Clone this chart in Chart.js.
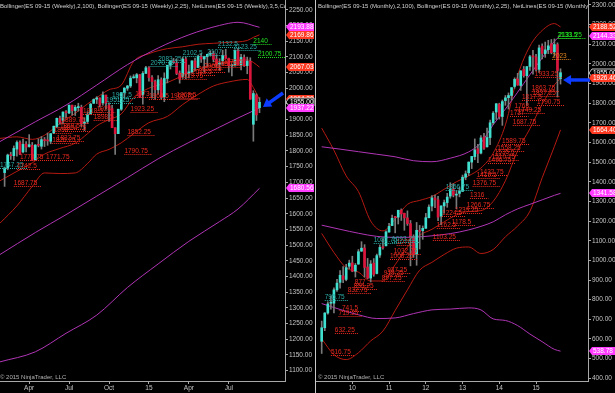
<!DOCTYPE html>
<html>
<head>
<meta charset="utf-8">
<script src="https://cdn.jsdelivr.net/npm/chart.js@4.4.1/dist/chart.umd.min.js"></script>
<style>
  html, body { margin: 0; padding: 0; background: #000; }
  body { width: 615px; height: 393px; position: relative; overflow: hidden; }
  #wk { position: absolute; left: 0; top: 0; }
  #sep { position: absolute; left: 315px; top: 0; width: 1px; height: 393px; background: #c8c8c8; }
  #mo { position: absolute; left: 316px; top: 0; }
</style>
</head>
<body>
<canvas id="wk" width="315" height="393"></canvas>
<div id="sep"></div>
<canvas id="mo" width="299" height="393"></canvas>
<script>
// weekly ES 09-15, Feb 2014 .. Sep 2015
const wkOpen  = [1731,1747,1787,1785,1806,1827,1797,1822,1814,1818,1772,1820,1815,1835,1835,1831,1857,1878,1904,1898,1924,1921,1946,1929,1938,1939,1887,1894,1919,1952,1965,1969,1953,1978,1946,1935,1874,1855,1933,1986,2000,2007,2033,2033,2043,1979,2047,2065,2034,2021,1995,2027,1972,2031,2073,2086,2081,2048,2038,2093,2046,2052,2087,2066,2102,2093,2101,2108,2111,2093,2077,2088,2104,2095,2071,2071,2121,2074,2098,2072,2086,1885,1978,1938];
const wkHigh  = [1747,1790,1796,1816,1832,1832,1838,1830,1852,1827,1820,1839,1846,1843,1857,1856,1879,1905,1911,1925,1929,1946,1946,1945,1952,1946,1906,1925,1952,1966,1973,1969,1988,1978,1953,1945,1874,1933,1986,2002,2009,2039,2043,2047,2044,2053,2070,2069,2040,2026,2040,2033,2049,2073,2087,2095,2093,2055,2099,2099,2074,2087,2096,2105,2111,2102,2108,2119,2118,2107,2094,2121,2124,2096,2077,2122,2127,2108,2106,2099,2097,1992,1982,1970];
const wkLow   = [1687,1740,1773,1770,1783,1788,1794,1797,1812,1769,1771,1813,1806,1814,1818,1823,1855,1874,1885,1886,1905,1919,1914,1913,1927,1877,1865,1887,1917,1951,1951,1940,1946,1933,1894,1874,1789,1855,1929,1969,1993,2002,2032,2017,1970,1949,2047,2022,1968,1964,1981,1965,1957,2017,2061,2079,2043,2016,2031,2030,2033,2049,2057,2065,2082,2052,2070,2102,2084,2070,2057,2076,2095,2051,2039,2071,2074,2058,2069,2046,1965,1831,1897,1922];
const wkClose = [1746,1787,1785,1808,1827,1790,1821,1812,1820,1770,1819,1818,1836,1833,1832,1855,1879,1904,1891,1924,1922,1946,1928,1939,1939,1886,1892,1916,1949,1964,1969,1946,1978,1951,1936,1874,1855,1933,1986,2000,2007,2032,2036,2043,1971,2047,2065,2034,2021,1995,2027,1971,2031,2073,2086,2081,2047,2029,2093,2046,2052,2087,2066,2102,2093,2101,2108,2111,2092,2077,2079,2104,2095,2071,2071,2121,2074,2098,2072,2086,1965,1983,1915,1955];
const wkTickIdx = [8, 21, 34, 47, 60, 73];
const wkTickText = ['Apr', 'Jul', 'Oct', '15', 'Apr', 'Jul'];
const wkPriceTicks = [1100,1150,1200,1250,1300,1350,1400,1450,1500,1550,1600,1650,1700,1750,1800,1850,1900,1950,2000,2050,2100,2150,2200,2250];

// weekly bollinger bands, read at sample bars
const wkIdx25 = [-1.5,4,9,13,18,23,27,30,34,38,42,47,53,58,63,68,73,79,81,83];
const wkUp25  = [1840,1845,1837,1850,1888,1920,1950,1970,1995,2010,2085,2110,2126,2132,2140,2143,2146,2152,2162,2170];
const wkMid25 = [1705,1735,1762,1790,1808,1825,1855,1880,1900,1918,1970,2000,2018,2040,2060,2075,2083,2090,2082,2067];
const wkLo25  = [1570,1625,1687,1730,1728,1730,1760,1790,1805,1826,1855,1890,1910,1948,1980,2007,2020,2028,2002,1964];
const wkIdx100 = [-1.5,10,20,30,40,50,60,70,76,83];
const wkUp100  = [1830,1893,1946,2010,2075,2128,2170,2200,2210,2194];
const wkMid100 = [1470,1540,1597,1656,1715,1775,1827,1876,1905,1937];
const wkLo100  = [1128,1160,1219,1277,1365,1440,1512,1575,1615,1681];

const wkNetText = ['1747.25','1687.75','1742.5','1770.75','1771.75','1826.25','1832.75','1858','1864.75','1869.5','1889.75','1918.5','1898.5','1924','1852.25','1790.75','1923.25','1973','1964.5','1966.75','1968.5','2029.75','2043.5','2052.25','2061','2068.75','2073.5','1951.25','1967.5','2070.75','2083.25','2102.5','2107','2132.5','2123.25','2140','2100.75'];
const wkNetIdx  = [-1.5,3,4,5,13.5,15.5,17,16,19,18,18.5,25.5,29,30,40,39,41,42.5,47,54,56,57,61,63,65,68,71,33,35,47.5,50,58,66,69.5,74.5,81,82.5];
const wkNetKind = ['c','r','r','r','r','r','r','r','r','r','r','r','r','r','r','r','r','r','r','r','r','r','r','r','r','r','r','c','c','c','c','c','c','c','c','g','g'];
const wkTagText = ['2193.88','2169.86','2067.03','1964.20','1955.00','1937.22','1680.56'];
const wkTagKind = ['m','r','r','r','k','m','m'];

// monthly ES 09-15 (back adjusted), Mar 2009 .. Sep 2015
const moOpen  = [588,657,732,782,782,850,888,921,903,970,987,945,981,1047,1063,966,910,986,933,1027,1068,1074,1144,1177,1220,1220,1256,1240,1216,1187,1120,1031,1151,1151,1163,1217,1276,1318,1308,1225,1277,1294,1327,1361,1332,1341,1351,1423,1446,1500,1528,1568,1546,1627,1578,1625,1701,1755,1795,1732,1813,1828,1839,1885,1923,1890,1972,1940,1987,2041,2035,1972,2090,2052,2072,2102,2061,2098,1925];
const moHigh  = [691,734,789,819,860,903,948,968,980,1001,1021,984,1055,1095,1080,1010,999,1009,1032,1079,1111,1150,1189,1231,1224,1255,1262,1240,1252,1203,1130,1193,1178,1175,1239,1283,1330,1332,1326,1278,1307,1341,1395,1390,1354,1373,1434,1455,1501,1529,1618,1591,1635,1647,1673,1714,1757,1798,1800,1816,1839,1852,1879,1929,1952,1966,1987,1986,2043,2069,2048,2096,2102,2111,2120,2124,2127,2107,1975];
const moLow   = [526,642,726,752,732,842,859,887,896,957,942,915,980,1045,915,907,890,919,931,1015,1057,1074,1144,1177,1140,1185,1203,1153,1178,972,1015,975,1058,1107,1163,1216,1251,1268,1202,1182,1240,1270,1316,1323,1263,1323,1351,1410,1432,1467,1512,1497,1542,1564,1576,1589,1690,1717,1719,1687,1789,1770,1815,1876,1891,1865,1932,1789,1967,1948,1964,1957,2025,2033,2052,2051,2039,1831,1897];
const moClose = [657,732,778,782,850,884,924,903,963,986,945,975,1044,1062,964,910,981,928,1024,1066,1064,1145,1173,1214,1217,1255,1236,1216,1187,1114,1031,1153,1147,1163,1217,1271,1318,1308,1220,1277,1294,1322,1361,1332,1336,1351,1423,1440,1500,1529,1562,1543,1623,1570,1625,1700,1749,1797,1732,1808,1827,1839,1879,1921,1892,1964,1940,1986,2036,2035,1971,2081,2053,2071,2092,2057,2098,1966,1955];
const moTickIdx = [10, 22, 34, 46, 58, 70];
const moTickText = ['10', '11', '12', '13', '14', '15'];
const moPriceTicks = [400,500,600,700,800,900,1000,1100,1200,1300,1400,1500,1600,1700,1800,1900,2000,2100,2200,2300];

const moIdx25 = [0,4,8,12,16,20,24,28,32,36,40,44,48,52,56,60,64,68,72,76,78];
const moUp25  = [1673,1560,1430,1350,1200,1150,1210,1285,1305,1325,1362,1400,1430,1470,1545,1690,1940,2090,2170,2205,2188];
const moMid25 = [1137,1040,962,940,895,895,978,1068,1128,1158,1196,1231,1249,1253,1300,1405,1558,1670,1795,1893,1926];
const moLo25  = [601,520,495,530,590,640,745,850,950,990,1030,1062,1068,1035,1055,1120,1175,1250,1420,1580,1664];
const moIdx100 = [0,6,12,18,24,30,36,42,48,52,56,60,64,68,72,76,78];
const moUp100  = [1578,1566,1553,1540,1527,1507,1502,1520,1552,1598,1690,1770,1856,1945,2030,2115,2144];
const moMid100 = [1179,1158,1138,1122,1117,1118,1125,1136,1155,1173,1196,1232,1262,1285,1308,1331,1341];
const moLo100  = [780,750,723,704,707,729,748,752,758,748,702,694,668,625,586,547,538];

const moNetText = ['795.75','516.75','632.25','719.25','741.5','832.75','855.25','877','1087.75','897.25','919.25','937.25','1008.25','1032.75','1076','1093.25','1103.25','1162.5','1224.5','1178.5','1239.25','1356.75','1266.75','1316','1376.75','1419.5','1432.75','1496.75','1510.75','1535.5','1558.25','1589.75','1737','1687.75','1768','1749.25','1817.5','1863.75','1837.25','1933.25','1790.75','2023','2133.5','2131.25'];
const moNetIdx  = [1,3,4.3,5.5,6.6,8.5,10.5,10.8,17,19.6,20.3,21.4,22.3,23.5,24.5,23,36.3,37.6,39.3,42.5,43.5,40.5,47.4,48.4,49.3,50.6,51.7,54.3,55.5,56.5,57.3,58.9,61.5,62.4,63,64,65.4,68.6,68.8,69.6,70.3,75.3,77,77.3];
const moNetKind = ['c','r','r','r','r','r','r','r','c','r','r','r','r','r','r','c','r','r','r','r','r','c','r','r','r','r','r','r','r','r','r','r','r','r','r','r','r','r','r','r','r','o','g','g'];
const moTagText = ['2188.52','2144.33','1955.00','1926.46','1664.40','1341.58','538.78'];
const moTagKind = ['r','m','k','r','r','m','m'];

const UP = '#40e0d0', DOWN = '#dc143c', WICK = '#7a7a7a';
const PURPLE = '#b035b5', DARKRED = '#b51a12';
const NET_COLORS = { r: '#ec2a20', c: '#2aa9a3', g: '#22e022', o: '#e0841e' };
const TAG_FILL = { m: '#ff3cff', r: '#ff3a22', k: '#000' };
const FONT = '"Liberation Sans", Arial, sans-serif';

Chart.defaults.font.family = FONT;

function candles(o, h, l, c) {
    const idx = o.map((v, i) => i);
    return [
        { type: 'bar', data: idx.map(i => ({ x: i, y: [l[i], h[i]] })), backgroundColor: WICK,
          barThickness: 1, grouped: false, borderWidth: 0, order: 2 },
        { type: 'bar', data: idx.map(i => ({ x: i, y: [o[i], c[i]] })),
          backgroundColor: idx.map(i => c[i] >= o[i] ? UP : DOWN),
          barThickness: 2, grouped: false, borderWidth: 0, minBarLength: 1, order: 1 }
    ];
}

function band(idx, vals, color) {
    return { type: 'line', data: idx.map((x, i) => ({ x, y: vals[i] })), borderColor: color,
             borderWidth: 1, pointRadius: 0, cubicInterpolationMode: 'monotone', order: 3 };
}

function overlay(cfg) {
    return {
        id: 'overlay',
        afterDatasetsDraw(chart) {
            const { ctx, chartArea: a, scales: { x, y } } = chart;
            ctx.save();
            ctx.beginPath();
            ctx.rect(a.left, a.top, a.right - a.left, a.bottom - a.top);
            ctx.clip();
            ctx.font = '6.5px ' + FONT;
            ctx.textBaseline = 'alphabetic';
            cfg.netText.forEach((t, i) => {
                const px = x.getPixelForValue(cfg.netIdx[i]);
                const py = Math.round(y.getPixelForValue(parseFloat(t)));
                const col = NET_COLORS[cfg.netKind[i]];
                ctx.fillStyle = col;
                ctx.fillText(t, px, py - 1.5);
                const w = ctx.measureText(t).width;
                ctx.strokeStyle = col;
                ctx.lineWidth = 1;
                ctx.setLineDash([1, 1]);
                ctx.beginPath();
                ctx.moveTo(px, py + 0.5);
                ctx.lineTo(px + w + 4, py + 0.5);
                ctx.stroke();
            });
            ctx.restore();
        },
        afterDraw(chart) {
            const { ctx, chartArea: a, scales: { x, y } } = chart;
            ctx.save();
            // header + copyright
            ctx.beginPath();
            ctx.rect(a.left, a.top, a.right - a.left, a.bottom - a.top);
            ctx.save();
            ctx.clip();
            ctx.fillStyle = '#d2d2d2';
            ctx.font = '6px ' + FONT;
            ctx.textBaseline = 'alphabetic';
            ctx.fillText(cfg.header, a.left + cfg.headerX, 7.5);
            ctx.fillStyle = '#b4b4b4';
            ctx.fillText('\u00a9 2015 NinjaTrader, LLC', a.left + cfg.headerX, a.bottom - 2);
            ctx.restore();

            // blue arrow pointing at the last bar
            const hx = x.getPixelForValue(cfg.arrow[0]) + cfg.arrow[2];
            const hy = y.getPixelForValue(cfg.arrow[1]);
            const tx = hx + cfg.arrow[3], ty = hy + cfg.arrow[4];
            const ang = Math.atan2(hy - ty, hx - tx);
            ctx.strokeStyle = '#0b3cff';
            ctx.fillStyle = '#0b3cff';
            ctx.lineWidth = 3.5;
            ctx.beginPath();
            ctx.moveTo(tx, ty);
            ctx.lineTo(hx - 6 * Math.cos(ang), hy - 6 * Math.sin(ang));
            ctx.stroke();
            ctx.beginPath();
            ctx.moveTo(hx, hy);
            ctx.lineTo(hx - 8 * Math.cos(ang) + 5 * Math.sin(ang), hy - 8 * Math.sin(ang) - 5 * Math.cos(ang));
            ctx.lineTo(hx - 8 * Math.cos(ang) - 5 * Math.sin(ang), hy - 8 * Math.sin(ang) + 5 * Math.cos(ang));
            ctx.closePath();
            ctx.fill();

            // price tags on the axis
            ctx.font = '6.5px ' + FONT;
            ctx.textBaseline = 'middle';
            cfg.tagText.forEach((t, i) => {
                const py = Math.round(y.getPixelForValue(parseFloat(t)));
                const k = cfg.tagKind[i];
                const x0 = a.right + 1, w = 28, h = 8;
                ctx.beginPath();
                ctx.moveTo(x0, py);
                ctx.lineTo(x0 + 3, py - h / 2);
                ctx.lineTo(x0 + w, py - h / 2);
                ctx.lineTo(x0 + w, py + h / 2);
                ctx.lineTo(x0 + 3, py + h / 2);
                ctx.closePath();
                ctx.fillStyle = TAG_FILL[k];
                ctx.fill();
                if (k === 'k') {
                    ctx.strokeStyle = '#c8c8c8';
                    ctx.lineWidth = 1;
                    ctx.stroke();
                }
                ctx.fillStyle = '#fff';
                ctx.fillText(t, x0 + 4, py + 0.5);
            });
            ctx.restore();
        }
    };
}

function makeChart(id, datasets, cfg) {
    const axisColor = '#a8a8a8';
    return new Chart(document.getElementById(id), {
        type: 'bar',
        data: { datasets },
        options: {
            responsive: false,
            animation: false,
            devicePixelRatio: 1,
            layout: { padding: 0 },
            plugins: { legend: { display: false }, tooltip: { enabled: false } },
            scales: {
                x: {
                    type: 'linear', position: 'bottom', min: cfg.xMin, max: cfg.xMax, offset: false,
                    afterBuildTicks: s => { s.ticks = cfg.xTicks.map(v => ({ value: v })); },
                    afterFit: s => { s.height = 12; s.paddingLeft = 0; s.paddingRight = 0; },
                    ticks: { color: '#c4c4c4', font: { size: 6.5 }, padding: 0, maxRotation: 0, autoSkip: false,
                             callback: (v, i) => cfg.xLabels[i] },
                    grid: { drawOnChartArea: false, offset: false, tickLength: 3, color: axisColor },
                    border: { color: axisColor }
                },
                y: {
                    type: 'linear', position: 'right', min: cfg.yMin, max: cfg.yMax,
                    afterBuildTicks: s => { s.ticks = cfg.yTicks.map(v => ({ value: v })); },
                    afterFit: s => { s.width = cfg.yWidth; s.paddingTop = 0; s.paddingBottom = 0; },
                    ticks: { color: '#c4c4c4', font: { size: 6.5 }, padding: 1, autoSkip: false,
                             callback: v => v.toFixed(2) },
                    grid: { drawOnChartArea: false, tickLength: 3, color: axisColor },
                    border: { color: axisColor }
                }
            }
        },
        plugins: [overlay(cfg)]
    });
}

makeChart('wk', [
    ...candles(wkOpen, wkHigh, wkLow, wkClose),
    band(wkIdx100, wkUp100, PURPLE), band(wkIdx100, wkMid100, PURPLE), band(wkIdx100, wkLo100, PURPLE),
    band(wkIdx25, wkUp25, DARKRED), band(wkIdx25, wkMid25, DARKRED), band(wkIdx25, wkLo25, DARKRED)
], {
    xMin: -1.5, xMax: 91.3, yMin: 1067, yMax: 2281, yWidth: 30,
    xTicks: wkTickIdx, xLabels: wkTickText, yTicks: wkPriceTicks,
    netText: wkNetText, netIdx: wkNetIdx, netKind: wkNetKind,
    tagText: wkTagText, tagKind: wkTagKind,
    header: 'Bollinger(ES 09-15 (Weekly),2,100), Bollinger(ES 09-15 (Weekly),2,25), NetLines(ES 09-15 (Weekly),3,5,Color [i]',
    headerX: 0,
    arrow: [83, 1940, 3.5, 20, -14]
});

makeChart('mo', [
    ...candles(moOpen, moHigh, moLow, moClose),
    band(moIdx100, moUp100, PURPLE), band(moIdx100, moMid100, PURPLE), band(moIdx100, moLo100, PURPLE),
    band(moIdx25, moUp25, DARKRED), band(moIdx25, moMid25, DARKRED), band(moIdx25, moLo25, DARKRED)
], {
    xMin: -1.86, xMax: 86.97, yMin: 386, yMax: 2325, yWidth: 27,
    xTicks: moTickIdx, xLabels: moTickText, yTicks: moPriceTicks,
    netText: moNetText, netIdx: moNetIdx, netKind: moNetKind,
    tagText: moTagText, tagKind: moTagKind,
    header: 'Bollinger(ES 09-15 (Monthly),2,100), Bollinger(ES 09-15 (Monthly),2,25), NetLines(ES 09-15 (Monthly),3,5,Color [i]',
    headerX: 2,
    arrow: [78, 1918, 2.5, 27, 0]
});
</script>
</body>
</html>
